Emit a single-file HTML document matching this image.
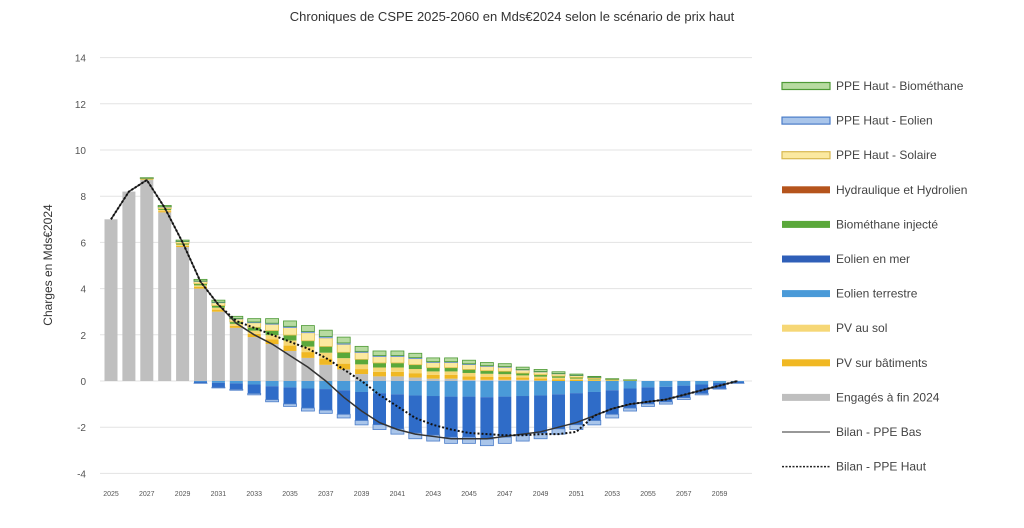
<!DOCTYPE html>
<html><head><meta charset="utf-8"><style>
html,body{margin:0;padding:0;background:#fff}
svg{display:block;font-family:"Liberation Sans",sans-serif}
</style></head><body>
<svg id="c" width="1024" height="528" xmlns="http://www.w3.org/2000/svg"></svg>
<script>
const s=document.getElementById('c');let h='';
const Y=v=>381-v*23.1, X=i=>111+i*17.9;
h+='<text x="512" y="21" text-anchor="middle" font-size="13" fill="#333">Chroniques de CSPE 2025-2060 en Mds€2024 selon le scénario  de prix haut</text>';
h+='<text transform="translate(52,265) rotate(-90)" text-anchor="middle" font-size="12" fill="#333">Charges en Mds€2024</text>';
for(let v=-4;v<=14;v+=2){h+=`<line x1="100" x2="752" y1="${Y(v)}" y2="${Y(v)}" stroke="#e3e3e3" stroke-width="1"/>`;
h+=`<text x="86" y="${Y(v)+4}" text-anchor="end" font-size="10" fill="#555">${v}</text>`;}
const grey=[7.0,8.2,8.7,7.3,5.8,4.0,3.0,2.3,1.9,1.6,1.3,1.0,0.7,0.5,0.3,0.2,0.2,0.15,0.1,0.1,0.05,0.05,0.05,0.05,0.02,0,0,0,0,0,0,0,0,0,0,0];
const tot=[7.0,8.2,8.8,7.6,6.1,4.4,3.5,2.8,2.7,2.7,2.6,2.4,2.2,1.9,1.5,1.3,1.3,1.2,1.0,1.0,0.9,0.8,0.75,0.6,0.5,0.4,0.3,0.2,0.1,0.05,0,0,0,0,0,0];
const neg=[0,0,0,0,0,-0.1,-0.3,-0.4,-0.6,-0.9,-1.1,-1.3,-1.4,-1.6,-1.9,-2.1,-2.3,-2.5,-2.6,-2.7,-2.7,-2.8,-2.7,-2.6,-2.5,-2.3,-2.1,-1.9,-1.6,-1.3,-1.1,-1.0,-0.8,-0.6,-0.35,-0.1];
const pos=[['#f0b823',.18],['#f6d776',.17],['#5aa83a',.18],['#fbe9a0',.25,'#e0c050'],['#a9c5ea',.04,'#6a93d0'],['#b7dba0',.18,'#4e9a36']];
for(let i=0;i<36;i++){const x=X(i)-6.5,w=13;
 if(grey[i]>0)h+=`<rect x="${x}" y="${Y(grey[i])}" width="${w}" height="${grey[i]*23.1}" fill="#bfbfbf"/>`;
 let r=tot[i]-grey[i],b=grey[i];
 if(r>0)for(const p of pos){const hh=r*p[1];h+=`<rect x="${x}" y="${Y(b+hh)}" width="${w}" height="${hh*23.1}" fill="${p[0]}" ${p[2]?`stroke="${p[2]}" stroke-width="0.8"`:''}/>`;b+=hh;}
 if(neg[i]<0){const n=-neg[i];let c=0;
  [['#4a9ad8',.25],['#2f6cc8',.65],['#a9c5ea',.1,'#4a7cc8']].forEach(p=>{const hh=n*p[1];h+=`<rect x="${x}" y="${Y(-c)}" width="${w}" height="${hh*23.1}" fill="${p[0]}" ${p[2]?`stroke="${p[2]}" stroke-width="0.8"`:''}/>`;c+=hh;});}
 if(i%2==0)h+=`<text x="${X(i)}" y="496" text-anchor="middle" font-size="7" fill="#555">${2025+i}</text>`;
}
const bas=[7.0,8.2,8.7,7.5,6.0,4.3,3.3,2.5,2.0,1.6,1.1,0.6,0.0,-0.7,-1.3,-1.8,-2.1,-2.3,-2.4,-2.5,-2.5,-2.5,-2.4,-2.3,-2.2,-2.0,-1.8,-1.5,-1.2,-1.0,-0.9,-0.8,-0.6,-0.4,-0.2,0];
const haut=bas.slice();const hv=[2.6,2.3,2.0,1.7,1.4,1.0,0.5,0.0,-0.6,-1.1,-1.6,-1.9,-2.1,-2.25,-2.3,-2.35,-2.35,-2.3,-2.3,-2.2];
hv.forEach((v,k)=>haut[7+k]=v);
const pl=a=>a.map((v,i)=>`${X(i)},${Y(v)}`).join(' ');
h+=`<polyline points="${pl(bas)}" fill="none" stroke="#333" stroke-width="1.5"/>`;
h+=`<polyline points="${pl(haut)}" fill="none" stroke="#111" stroke-width="2" stroke-dasharray="2,2"/>`;
const L=[['PPE Haut - Biométhane','#b7dba0','#4e9a36'],['PPE Haut - Eolien','#a9c5ea','#4a7cc8'],['PPE Haut - Solaire','#fbe9a0','#d8b850'],['Hydraulique et Hydrolien','#b5541c'],['Biométhane injecté','#5aa83a'],['Eolien en mer','#2f5fb8'],['Eolien terrestre','#4a9ad8'],['PV au sol','#f6d776'],['PV sur bâtiments','#f0b823'],['Engagés à fin 2024','#bfbfbf'],['Bilan - PPE Bas','line'],['Bilan - PPE Haut','dot']];
L.forEach((l,k)=>{const y=86+k*34.6;
 if(l[1]=='line')h+=`<line x1="782" x2="830" y1="${y}" y2="${y}" stroke="#777" stroke-width="1.5"/>`;
 else if(l[1]=='dot')h+=`<line x1="782" x2="830" y1="${y}" y2="${y}" stroke="#222" stroke-width="1.5" stroke-dasharray="2,1.5"/>`;
 else h+=`<rect x="782" y="${y-3.5}" width="48" height="7" fill="${l[1]}" ${l[2]?`stroke="${l[2]}" stroke-width="1.2"`:''}/>`;
 h+=`<text x="836" y="${y+4}" font-size="12" fill="#444">${l[0]}</text>`;});
s.innerHTML=h;
</script>
</body></html>
